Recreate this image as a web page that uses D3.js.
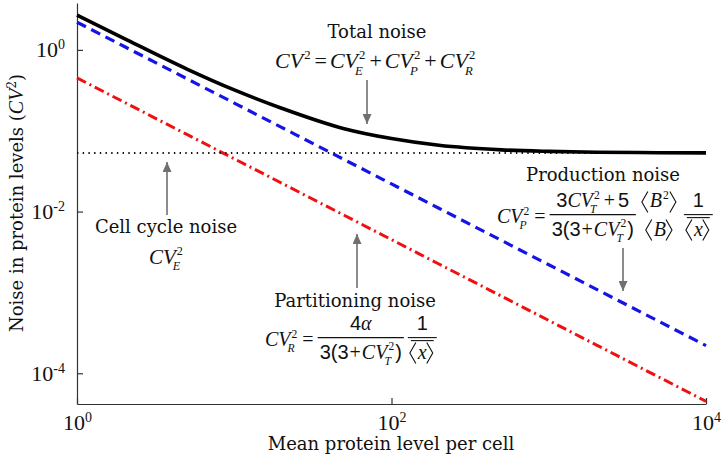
<!DOCTYPE html>
<html>
<head>
<meta charset="utf-8">
<script src="https://cdn.jsdelivr.net/npm/d3@7"></script>
<style>
body { margin: 0; background: #fff; }
</style>
</head>
<body>
<svg width="723" height="459"></svg>
<script>
// values (mean protein level per cell -> CV^2)
var xs = [1, 2, 5, 10, 20, 50, 100, 200, 500, 1000, 2000, 5000, 10000];
var totalNoise      = [2.70, 1.38, 0.58, 0.32, 0.19, 0.106, 0.080, 0.066, 0.058, 0.0556, 0.0543, 0.0535, 0.0532];
var productionNoise = [2.2, 1.1, 0.44, 0.22, 0.11, 0.044, 0.022, 0.011, 0.0044, 0.0022, 0.0011, 0.00044, 0.00022];
var partitionNoise  = [0.45, 0.225, 0.09, 0.045, 0.0225, 0.009, 0.0045, 0.00225, 0.0009, 0.00045, 0.000225, 0.00009, 0.000045];
var cellCycleNoise  = [0.053, 0.053, 0.053, 0.053, 0.053, 0.053, 0.053, 0.053, 0.053, 0.053, 0.053, 0.053, 0.053];

var xTicks = [1, 100, 10000];
var xTickExp = ['0', '2', '4'];
var yTicks = [1e-4, 1e-2, 1];
var yTickExp = ['-4', '-2', '0'];

var xTitle = 'Mean protein level per cell';
var yTitle = 'Noise in protein levels (';

var labelFont = "'DejaVu Serif', serif";
var fonts = {
	i: "'Liberation Serif', serif",
	r: "'Liberation Serif', serif",
	n: "'Liberation Sans', sans-serif"
};

var svg = d3.select('svg');

var x = d3.scaleLog().domain([1, 1e4]).range([77, 706]);
var y = d3.scaleLog().domain([Math.pow(10, -4.38), Math.pow(10, 0.58)]).range([404, 3]);

// axes
var gx = svg.append('g')
	.attr('transform', 'translate(0,404)')
	.call(d3.axisBottom(x).tickValues(xTicks).tickSizeInner(-6).tickSizeOuter(0).tickFormat(''));
var gy = svg.append('g')
	.attr('transform', 'translate(77,0)')
	.call(d3.axisLeft(y).tickValues(yTicks).tickSizeInner(-6).tickSizeOuter(0).tickFormat(''));

svg.selectAll('.domain, .tick line').attr('stroke', '#333').attr('stroke-width', 1.2);

gx.selectAll('.tick').each(function(d, i) {
	var t = d3.select(this).append('text')
		.attr('y', 26).attr('fill', '#111')
		.attr('font-family', fonts.r).attr('font-size', 22)
		.attr('text-anchor', 'middle');
	t.append('tspan').text('10');
	t.append('tspan').attr('dy', -8).attr('font-size', 14).text(xTickExp[i]);
});
gy.selectAll('.tick').each(function(d, i) {
	var t = d3.select(this).append('text')
		.attr('x', -12).attr('y', 7).attr('fill', '#111')
		.attr('font-family', fonts.r).attr('font-size', 22)
		.attr('text-anchor', 'end');
	t.append('tspan').text('10');
	t.append('tspan').attr('dy', -8).attr('font-size', 14).text(yTickExp[i]);
});

// axis titles
svg.append('text')
	.attr('x', 391).attr('y', 450)
	.attr('text-anchor', 'middle')
	.attr('font-family', labelFont).attr('font-size', 18).attr('fill', '#111')
	.text(xTitle);

var yt = svg.append('text')
	.attr('transform', 'translate(23,203) rotate(-90)')
	.attr('text-anchor', 'middle')
	.attr('font-family', labelFont).attr('font-size', 18).attr('fill', '#111');
yt.append('tspan').text(yTitle);
yt.append('tspan').attr('font-family', fonts.i).attr('font-style', 'italic').attr('font-size', 20).text('CV');
yt.append('tspan').attr('dy', -7).attr('font-size', 12).text('2');
yt.append('tspan').attr('dy', 7).text(')');

// curves
var line = d3.line()
	.x(function(d) { return x(d[0]); })
	.y(function(d) { return y(d[1]); })
	.curve(d3.curveMonotoneX);

function series(vals) { return xs.map(function(v, i) { return [v, vals[i]]; }); }

svg.append('path').datum(series(partitionNoise)).attr('d', line)
	.attr('fill', 'none').attr('stroke', '#f01010').attr('stroke-width', 3)
	.attr('stroke-dasharray', '10,4,2,4');
svg.append('path').datum(series(productionNoise)).attr('d', line)
	.attr('fill', 'none').attr('stroke', '#1414e6').attr('stroke-width', 3.2)
	.attr('stroke-dasharray', '10,6');
svg.append('path').datum(series(cellCycleNoise)).attr('d', line)
	.attr('fill', 'none').attr('stroke', '#111').attr('stroke-width', 2)
	.attr('stroke-dasharray', '1.4,4.3');
svg.append('path').datum(series(totalNoise)).attr('d', line)
	.attr('fill', 'none').attr('stroke', '#000').attr('stroke-width', 3.6);

// arrows
svg.append('defs').append('marker')
	.attr('id', 'arr').attr('markerUnits', 'userSpaceOnUse')
	.attr('markerWidth', 10).attr('markerHeight', 9)
	.attr('refX', 10).attr('refY', 4.5).attr('orient', 'auto')
	.append('path').attr('d', 'M0,0L10,4.5L0,9Z').attr('fill', '#707070');

function arrow(x1, y1, x2, y2) {
	svg.append('line')
		.attr('x1', x1).attr('y1', y1).attr('x2', x2).attr('y2', y2)
		.attr('stroke', '#707070').attr('stroke-width', 1.6)
		.attr('marker-end', 'url(#arr)');
}
arrow(367, 80, 367, 124);
arrow(167, 215, 167, 162);
arrow(623, 248, 623, 291);
arrow(357, 288, 357, 234);

// labels
function label(cx, base, str) {
	svg.append('text').attr('x', cx).attr('y', base)
		.attr('text-anchor', 'middle')
		.attr('font-family', labelFont).attr('font-size', 18).attr('fill', '#111')
		.text(str);
}
label(377, 38, 'Total noise');
label(166, 233, 'Cell cycle noise');
label(603, 181, 'Production noise');
label(355, 307, 'Partitioning noise');

// formula helpers
function piece(g, px, base, str, font, size, style) {
	var t = g.append('text').attr('x', px).attr('y', base)
		.attr('font-family', font).attr('font-size', size)
		.attr('font-style', style || 'normal').attr('fill', '#111')
		.text(str);
	return t.node().getComputedTextLength();
}

function row(g, x0, base, items, size) {
	var xx = x0;
	items.forEach(function(it) {
		if (it.pad) xx += it.pad;
		if (it.br) {
			var w = size * 0.3;
			var top = base - size * 0.8, bot = base + size * 0.25, mid = (top + bot) / 2;
			var p = it.br === '<'
				? 'M' + (xx + w) + ',' + top + 'L' + xx + ',' + mid + 'L' + (xx + w) + ',' + bot
				: 'M' + xx + ',' + top + 'L' + (xx + w) + ',' + mid + 'L' + xx + ',' + bot;
			g.append('path').attr('d', p).attr('fill', 'none').attr('stroke', '#111').attr('stroke-width', 1.1);
			xx += w + 2;
		} else {
			xx += piece(g, xx, base, it.t, fonts[it.f], size, it.f === 'i' ? 'italic' : 'normal');
		}
		if (it.sup || it.sub) {
			var s = size * 0.58, w1 = 0, w2 = 0;
			if (it.sup) w1 = piece(g, xx + 1, base - size * 0.42, it.sup, fonts.r, s) + 1;
			if (it.sub) w2 = piece(g, xx - 3, base + size * 0.3, it.sub, fonts.i, s, 'italic') - 3;
			xx += Math.max(w1, w2) + 1;
		}
		if (it.pad) xx += it.pad;
	});
	return xx - x0;
}

function frac(g, x0, base, num, den, size, bar, over) {
	var gn = g.append('g'), gd = g.append('g');
	var wn = row(gn, 0, 0, num, size), wd = row(gd, 0, 0, den, size);
	var w = Math.max(wn, wd) + 4;
	var ly = base - size * 0.42;
	gn.attr('transform', 'translate(' + (x0 + (w - wn) / 2) + ',' + (ly - size * 0.36) + ')');
	gd.attr('transform', 'translate(' + (x0 + (w - wd) / 2) + ',' + (ly + size * 1.05) + ')');
	if (bar) g.append('line').attr('x1', x0).attr('x2', x0 + w).attr('y1', ly).attr('y2', ly)
		.attr('stroke', '#111').attr('stroke-width', 1.1);
	if (over) g.append('line').attr('x1', x0 + (w - wd) / 2 + 1).attr('x2', x0 + (w + wd) / 2 - 1)
		.attr('y1', ly + 3).attr('y2', ly + 3).attr('stroke', '#111').attr('stroke-width', 1.1);
	return w;
}

function equation(x0, base, parts, size) {
	var g = svg.append('g');
	var xx = x0;
	parts.forEach(function(p) {
		if (p.row) xx += row(g, xx, base, p.row, size);
		else xx += frac(g, xx, base, p.num, p.den, size, p.bar !== false, p.over) + 4;
	});
}

var cvT = { t: 'CV', f: 'i', sup: '2', sub: 'T' };
var meanX = [{ br: '<' }, { t: 'x', f: 'i' }, { br: '>' }];

equation(275, 68, [{ row: [
	{ t: 'CV', f: 'i', sup: '2' }, { t: '=', f: 'r', pad: 3 },
	{ t: 'CV', f: 'i', sup: '2', sub: 'E' }, { t: '+', f: 'r', pad: 3 },
	{ t: 'CV', f: 'i', sup: '2', sub: 'P' }, { t: '+', f: 'r', pad: 3 },
	{ t: 'CV', f: 'i', sup: '2', sub: 'R' }
] }], 22);

equation(149, 264, [{ row: [{ t: 'CV', f: 'i', sup: '2', sub: 'E' }] }], 21);

equation(497, 223, [
	{ row: [{ t: 'CV', f: 'i', sup: '2', sub: 'P' }, { t: '=', f: 'r', pad: 4 }] },
	{ num: [{ t: '3', f: 'n' }, cvT, { t: '+', f: 'r', pad: 3 }, { t: '5', f: 'n' }],
	  den: [{ t: '3(3', f: 'n' }, { t: '+', f: 'r', pad: 1 }, cvT, { t: ')', f: 'n' }] },
	{ num: [{ br: '<' }, { t: 'B', f: 'i', sup: '2' }, { br: '>' }],
	  den: [{ br: '<' }, { t: 'B', f: 'i' }, { br: '>' }], bar: false },
	{ num: [{ t: '1', f: 'n' }], den: meanX, over: true }
], 20);

equation(265, 346, [
	{ row: [{ t: 'CV', f: 'i', sup: '2', sub: 'R' }, { t: '=', f: 'r', pad: 4 }] },
	{ num: [{ t: '4', f: 'n' }, { t: 'α', f: 'i' }],
	  den: [{ t: '3(3', f: 'n' }, { t: '+', f: 'r', pad: 1 }, cvT, { t: ')', f: 'n' }] },
	{ num: [{ t: '1', f: 'n' }], den: meanX, over: true }
], 20);
</script>
</body>
</html>
